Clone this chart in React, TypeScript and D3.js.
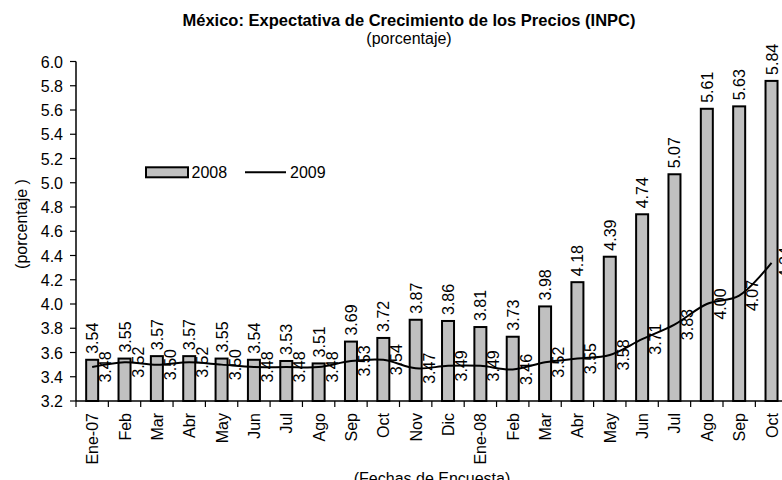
import React from "react";
import * as d3 from "d3";

const categories = ["Ene-07","Feb","Mar","Abr","May","Jun","Jul","Ago","Sep","Oct","Nov","Dic","Ene-08","Feb","Mar","Abr","May","Jun","Jul","Ago","Sep","Oct"];
const values2008 = [3.54,3.55,3.57,3.57,3.55,3.54,3.53,3.51,3.69,3.72,3.87,3.86,3.81,3.73,3.98,4.18,4.39,4.74,5.07,5.61,5.63,5.84];
const values2009 = [3.48,3.52,3.50,3.52,3.50,3.48,3.48,3.48,3.53,3.54,3.47,3.49,3.49,3.46,3.52,3.55,3.58,3.71,3.83,4.00,4.07,4.34];
const yTicks = [3.2,3.4,3.6,3.8,4.0,4.2,4.4,4.6,4.8,5.0,5.2,5.4,5.6,5.8,6.0];
const seriesNames = ["2008", "2009"];
const title = "México: Expectativa de Crecimiento de los Precios (INPC)";
const subtitle = "(porcentaje)";
const yTitle = "(porcentaje )";
const xTitle = "(Fechas de Encuesta)";

const FONT = "'Liberation Sans', Arial, Helvetica, sans-serif";

export default function App() {
  const W = 782, H = 480;
  const left = 76, right = 76 + 22 * 32.35;
  const top = 61.5, bottom = 401;
  const x = d3.scaleBand<number>().domain(categories.map((_, i) => i)).range([left, right]).padding(0);
  const y = d3.scaleLinear().domain([3.2, 6.0]).range([bottom, top]);
  const bw = x.bandwidth();
  const barW = 12;
  const cx = (i: number) => (x(i) as number) + bw / 2;
  const line = d3.line<number>()
    .x((_, i) => cx(i))
    .y((d) => y(d))
    .curve(d3.curveCatmullRom.alpha(0.5));
  const fmt = d3.format(".2f");

  return (
    <svg width={W} height={H} style={{ position: "absolute", left: 0, top: 0, background: "#fff" }} fontFamily={FONT}>
      <rect x={0} y={0} width={W} height={H} fill="#fff" />
      <text x={409} y={26} textAnchor="middle" fontWeight="bold" fontSize={16.5}>{title}</text>
      <text x={409} y={44} textAnchor="middle" fontSize={16}>{subtitle}</text>

      {/* bars */}
      {values2008.map((v, i) => (
        <rect key={"b" + i} x={cx(i) - barW / 2} y={y(v)} width={barW} height={bottom - y(v)}
          fill="#c0c0c0" stroke="#000" strokeWidth={2} />
      ))}

      {/* axes */}
      <line x1={left} x2={left} y1={top} y2={bottom} stroke="#000" strokeWidth={1.5} />
      <line x1={left} x2={right} y1={bottom} y2={bottom} stroke="#000" strokeWidth={1.5} />
      {yTicks.map((t) => (
        <g key={"yt" + t}>
          <line x1={left - 6} x2={left} y1={y(t)} y2={y(t)} stroke="#000" strokeWidth={1.2} />
          <text x={63} y={y(t) + 6} textAnchor="end" fontSize={16}>{t.toFixed(1)}</text>
        </g>
      ))}
      {categories.map((c, i) => (
        <g key={"xt" + i}>
          <line x1={x(i) as number} x2={x(i) as number} y1={bottom} y2={bottom + 6} stroke="#000" strokeWidth={1.2} />
          <text transform={`translate(${cx(i) + 6},413) rotate(-90)`} textAnchor="end" fontSize={16}>{c}</text>
        </g>
      ))}

      {/* 2009 line */}
      <path d={line(values2009) || ""} fill="none" stroke="#000" strokeWidth={2} />

      {/* bar labels */}
      {values2008.map((v, i) => (
        <text key={"bl" + i} transform={`translate(${cx(i) + 6},${y(v) - 6}) rotate(-90)`} fontSize={16}>{fmt(v)}</text>
      ))}
      {/* line labels */}
      {values2009.map((v, i) => (
        <text key={"ll" + i} transform={`translate(${cx(i) + 19},${y(v)}) rotate(-90)`} textAnchor="middle" fontSize={16}>{fmt(v)}</text>
      ))}

      {/* legend */}
      <rect x={146} y={167.3} width={42} height={10} fill="#c0c0c0" stroke="#000" strokeWidth={2} />
      <text x={191.5} y={178} fontSize={16}>{seriesNames[0]}</text>
      <line x1={245} x2={286} y1={172.3} y2={172.3} stroke="#000" strokeWidth={2} />
      <text x={290} y={178} fontSize={16}>{seriesNames[1]}</text>

      {/* axis titles */}
      <text transform={`translate(27,224) rotate(-90)`} textAnchor="middle" fontSize={16}>{yTitle}</text>
      <text x={432} y={484} textAnchor="middle" fontSize={16}>{xTitle}</text>
    </svg>
  );
}
